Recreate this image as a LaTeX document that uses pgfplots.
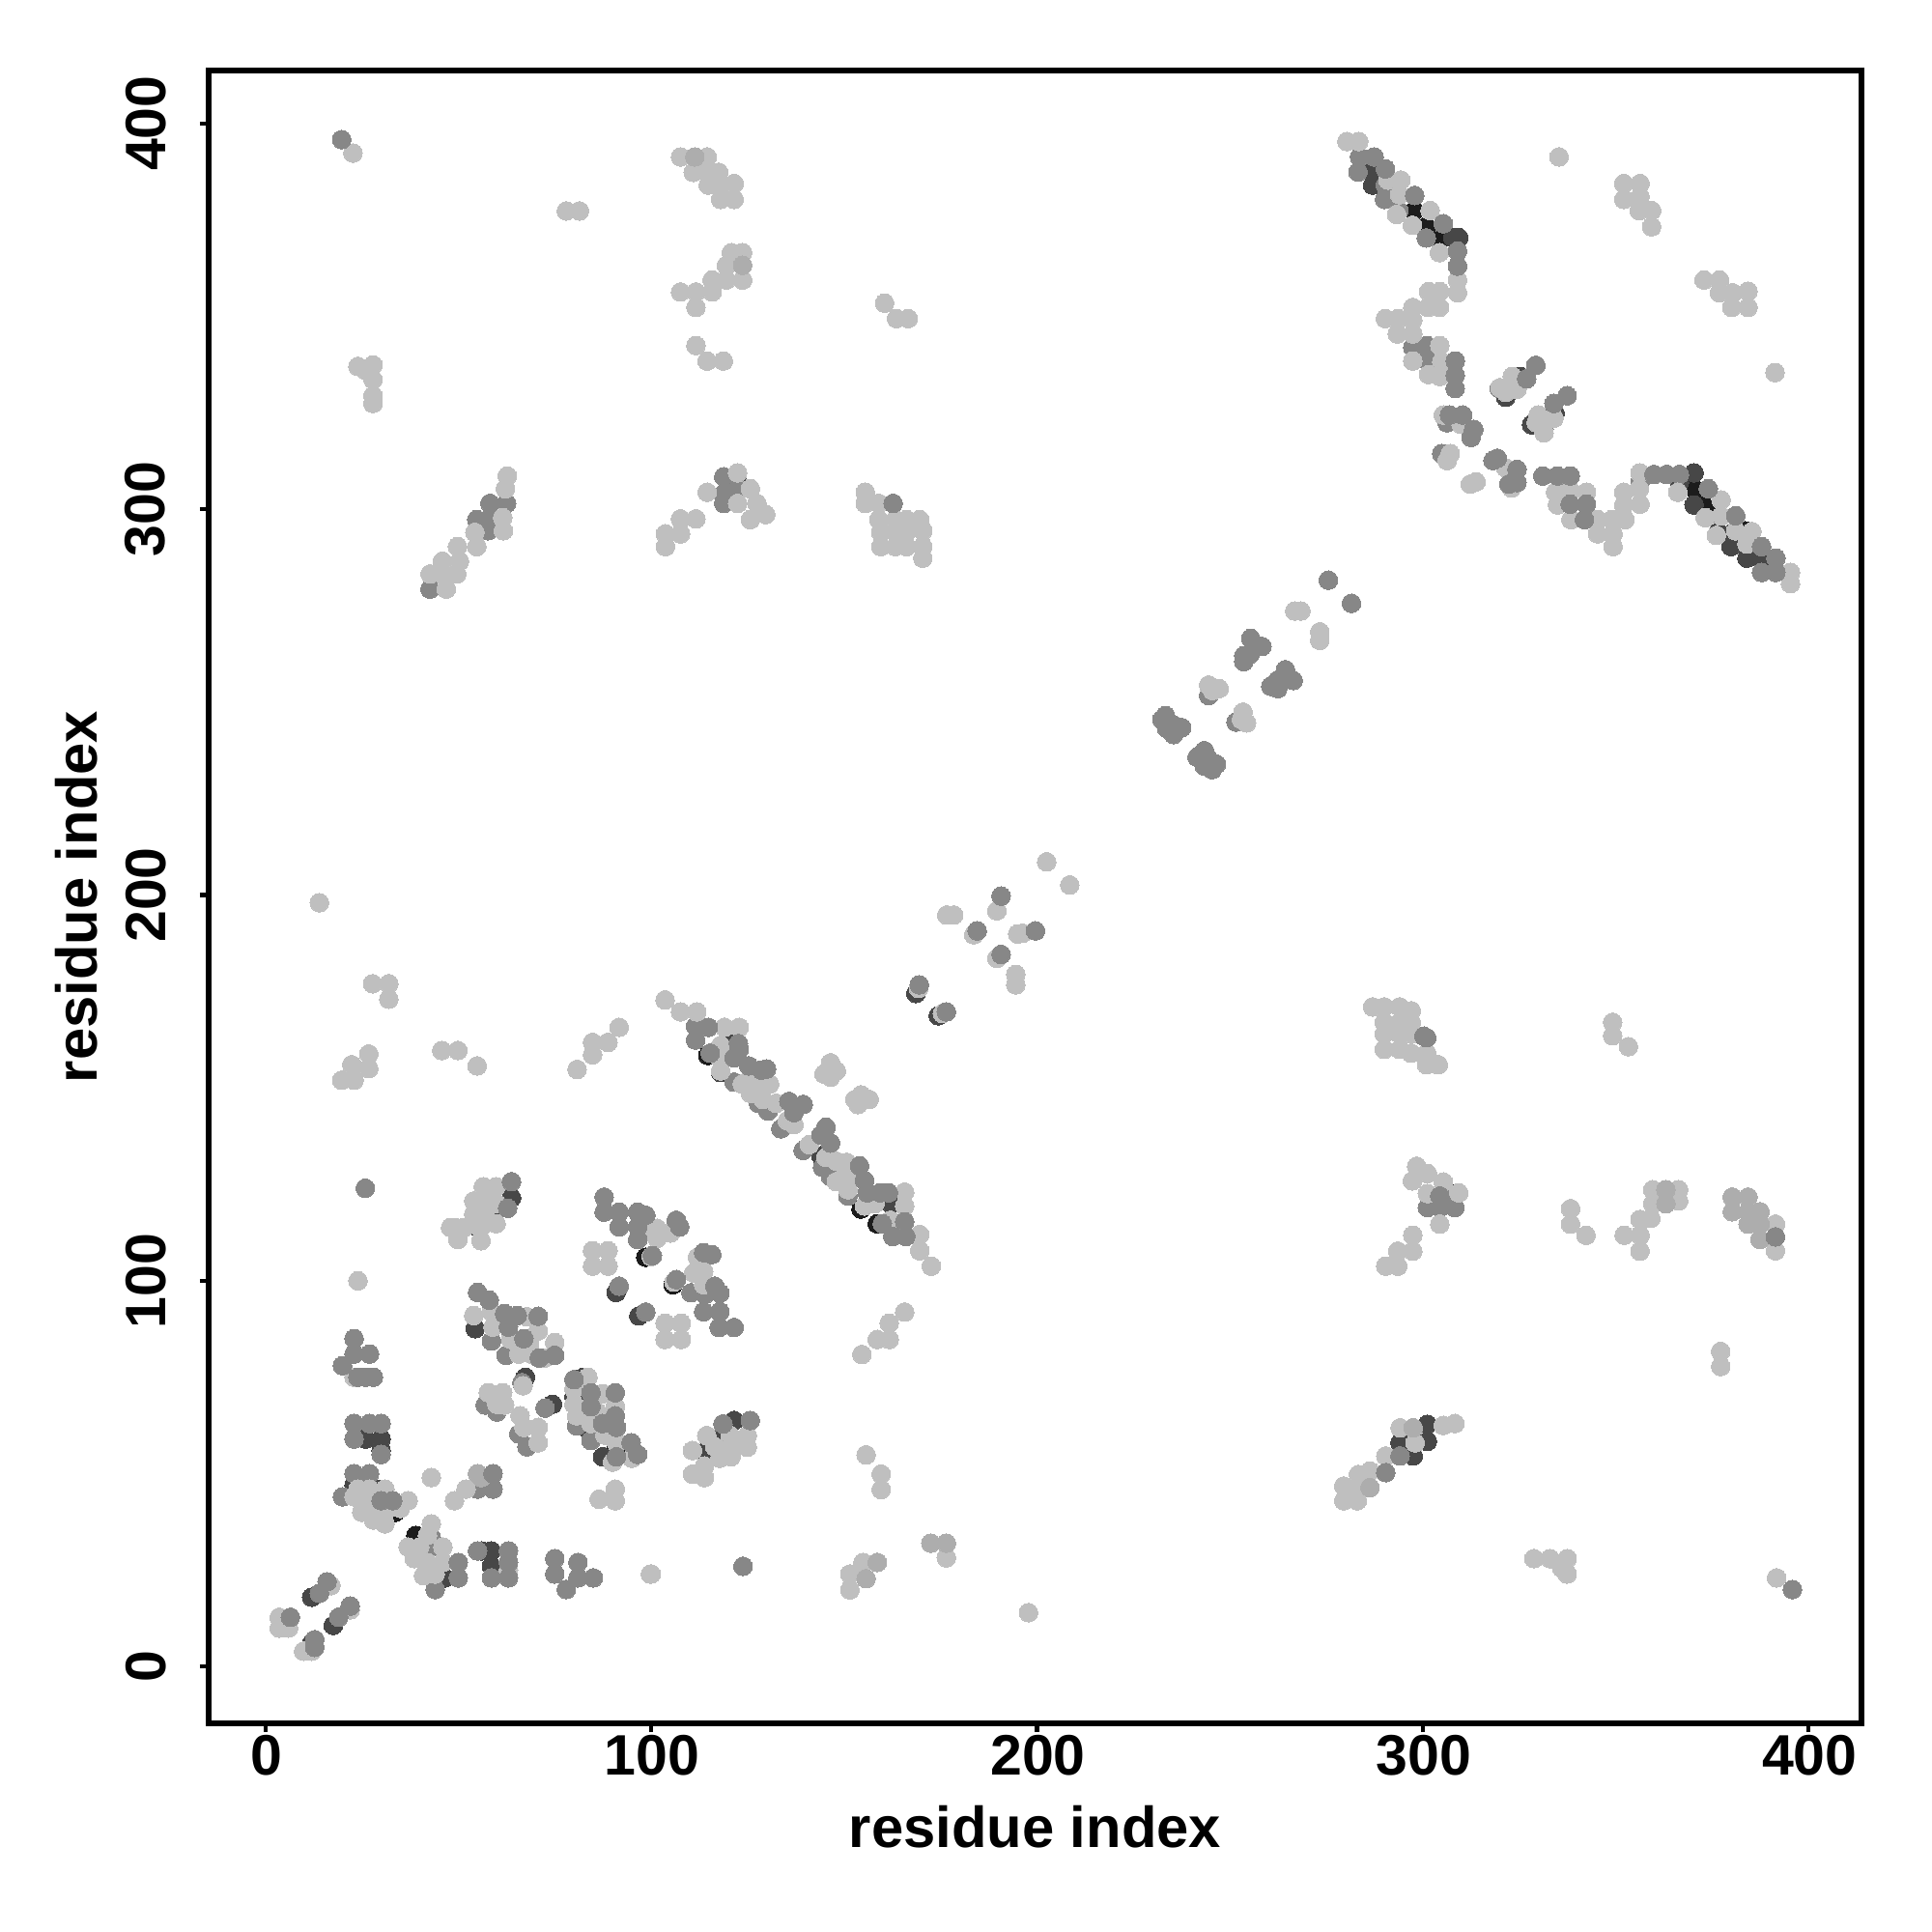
\documentclass[border=0pt]{standalone}
\usepackage{pgfplots}
\pgfplotsset{compat=1.18}
\usepackage{fontspec}
\setmainfont{Liberation Sans}
\definecolor{gb}{gray}{0.11}
\definecolor{gd}{gray}{0.28}
\definecolor{ge}{gray}{0.40}
\definecolor{gm}{gray}{0.53}
\definecolor{gn}{gray}{0.68}
\definecolor{gl}{gray}{0.75}
\newcommand{\pts}[2]{\addplot[only marks,color=#1,mark=*,mark size=0.97mm,mark options={solid,draw=#1,fill=#1,line width=0pt}] coordinates {#2};}
\begin{document}
\begin{tikzpicture}
\path[use as bounding box] (-21.6mm,-21.6mm) rectangle (178.4mm,178.4mm);
\begin{axis}[at={(0,0)},anchor=south west,scale only axis,width=171.1mm,height=171.1mm,
 xmin=-14.7,xmax=413.7,ymin=-14.7,ymax=413.7,
 xtick={0,100,200,300,400},ytick={0,100,200,300,400},
 xtick pos=bottom,ytick pos=left,tick align=outside,
 major tick length=0.9mm,
 axis line style={line width=0.55mm,black},
 every tick/.style={line width=0.42mm,black},
 /pgf/number format/assume math mode=true,
 tick label style={font=\fontsize{16.8}{18}\selectfont\bfseries},
 xticklabel style={yshift=0.9mm,xshift=0.1mm},
 yticklabel style={rotate=90,anchor=south,yshift=2.3mm},
 xlabel={residue index},ylabel={residue index},
 label style={font=\fontsize{17}{18}\selectfont\bfseries},
 xlabel style={at={(0.5,0)},anchor=center,yshift=-10.7mm},
 ylabel style={at={(0,0.5)},anchor=center,yshift=13.7mm}]
% very dark
\pts{gb}{(39,34)(33.6,40)(98.6,106.1)(105.7,99)(154.4,118.6)(158.6,114.8)(114.7,158.4)(91,57)(300.9,373.2)(297.8,377.4)(304.9,370.1)(308.3,122.6)(370.3,305.3)(372.8,301)(376,298.6)(383.6,294.4)}
% dark
\pts{gd}{(30,59)(30,56)(23,47)(12,18)(17.6,10.7)(5.7,12)(12,6)(26,59)(56,30)(58.6,30)(58.6,26)(46.5,23)(29,46)
(54.4,87.6)(67.4,75)(74.4,68)(82.4,75)(80,70)(84,61)(87.4,54.4)(63.8,121.5)(59.4,118)(54.9,114)
(90.9,97)(96.8,90.9)(121.5,63.8)(117.6,59.4)(114,55.7)(119.8,162.4)(118,154)(144,132.4)(162.3,119.8)
(168.6,174.5)(174.4,168.7)(301.2,62.8)(301.2,58.4)(294.1,58)(297.5,54.6)
(287,387.8)(287,384)(309.3,370.4)(307.8,370.4)(370.3,309.4)(325.3,334.4)(321.5,329)(334.3,324.8)(328.2,321.9)(122.4,307.3)
(366.5,307)(376.5,294)(379.9,293.6)(379.9,290.3)(384,287.3)(387.8,286.9)(370.3,301.1)}
% mid under light
\pts{gm}{(20,44)(23,50)(27,50)(44,20)(43,33.6)(42.6,30.7)(55,46)(59,46)(58.6,84.4)(62.4,80.7)(66.5,73.6)(57,67.8)(60,66)(65.7,60.3)(67.8,57)(80.7,62.4)(84.4,58.6)
(111.5,166)(111.5,162.4)(121.5,151.5)(127.8,146)(130.3,144)(133.6,139.4)(139.4,133.8)(144.4,129.4)(146.5,127)(151,122)(110.3,96.9)(114,96.5)
(297.4,341.9)(301.1,342.4)(301.1,338.6)(319.8,331.3)(331.4,320.7)(306.3,322.4)(304.9,314.4)(356.3,307)(363.2,309)(366.5,309)(290.1,380.3)(293.8,377.4)(283.2,387.4)(290.3,384)(283.6,391.3)
(118.8,308.4)(118.8,304)(118.8,301.5)(122.4,305.3)(58.2,301.5)(54.8,297.3)(57.7,294.4)(58.2,297.8)(42.7,279.3)(62.5,301.5)(301.2,119)(304.4,119)(308.3,119)(305.3,122.2)(297.4,338.4)(244.5,251.7)(251.6,244.8)}
% light
\pts{gl}{(24,100)(23,75)(23,44)(24,46)(27,46)(26,43)(27,41)(28,38)(31,37)(31,40)(25,40)(29,42)(31,46)(37,43)(35,41)(43,49)(49,43)(17,21)(22,14.7)(3.6,12.8)(3.6,10)(9.9,4)(12,4)(6,10)
(43,37)(37,31)(38.6,28)(41,23.6)(46,31)(46,27)(40,31)(42,27)(44,24)(42,34)(63,25)(86.5,43.4)(90.7,46)(90.7,43)(100,24)(52,46)(58.6,92)(59,88)(63.6,84.8)(65.7,81)(67.8,90.7)(70.7,87)(75,84)(72.4,80)(54,91)(68.5,84)(69,81)
(66.8,72.8)(57.8,71)(61.5,71)(62,67.8)(60,68)(67,62)(70.7,62)(70.7,58)(66,65)(83.6,75)(80,72)(80,68)(80.7,65)(87.4,70.7)(90.7,67.4)(84.4,63)(88,60)(91,58)(95,54)(85,70)(83,66)(86,66)(90,53)
(103.6,172.8)(107.6,169.7)(111.8,169.7)(45.7,159.7)(49.9,159.7)(54.9,155.7)(91.7,165.7)(84.8,161.8)(88.8,161.8)(84.8,158.6)(80.8,154.8)
(119,165.7)(122.8,165.7)(118,161)(118,157.4)(118,154.4)(123.6,151)(125.7,148.6)(130.7,151)(126,153)(128,150)(132.4,146)(129,147)(135.3,141.5)(137,140.5)(141,135.3)(145.3,132)(148,131)(150.7,130.7)(148,125.7)(151,123.6)(153,128)(150,127)(155.3,119.4)(158,120)(165.7,123)(165.7,119.4)(162,115.7)(169.6,112)(169.6,107.8)(172.6,103.8)
(146.5,156.5)(144.8,153.6)(148,154.4)(146.5,152.8)(154.4,148.2)(152.8,147)(153.6,145.7)(156.5,147)
(59.8,124.4)(56.5,124.4)(54,120.7)(54,117.3)(59.8,114.8)(57,117.8)(55.7,113.6)(49,113.8)(51.5,113.8)(48,113.8)(49.9,110.7)(55.9,110.4)(57,121)(60,120)
(84.8,107.8)(88.8,107.8)(84.8,103.8)(88.8,103.8)(101.5,113.6)(98.6,113)(101.5,111)(105,112.4)(112,106.1)(111,102)(113.6,102.4)(113.6,99)(100,106.3)(105.9,99.7)(103.6,89)(107.8,89)(103.6,84.8)(107.8,84.8)
(165.7,91.9)(161.7,89)(158.6,84.8)(161.7,84.8)(154.6,80.9)
(124.9,59.9)(124.9,56.9)(114.4,59.9)(110.7,56)(120.5,59.9)(120.7,54.4)(117.8,54)(116.5,57)(121,57)(113.8,52)(110.7,49.9)(113.8,49)(155.7,54.9)(159.6,49.9)(159.6,45.9)(99.8,24)(176.5,28.2)(154.9,27)(151.5,24)(151.5,19.9)(197.8,14)
(287,171)(290,171)(294,171)(297,170)(290,167)(294,167)(297,167)(290,164)(294,164)(297,164)(290,160)(294,160)(297,159)(301,159)(301,156)(304,156)(349.2,167)(349.2,163.5)(353.3,160.7)
(298.4,129.7)(297.3,125.9)(301.2,127.8)(305.3,125.6)(301.2,122.6)(309.3,122.8)(304.4,114.7)(297.4,111.8)(297.4,107.7)(293.5,107.7)(293.5,103.8)(290.4,103.8)(338.3,118.7)(338.3,114.7)(342.3,111.8)
(359.6,123.6)(366.3,123.6)(366.3,120.7)(359.6,120)(359.1,116.2)(356.3,115.9)(352.2,111.8)(356.3,111.8)(356.3,107.7)(391.4,114.7)(391.4,107.8)(377.2,81.7)(377.2,77.8)
(308.3,63)(305.3,62.5)(294.1,61.9)(298,58)(290.4,54.6)(286.3,50.7)(283.3,49.8)(279.5,46.8)(282.9,46)(279.5,43)(283,43)(391.7,23)(328.8,28)(333,28)(337.4,28)(337.4,24)(336,25.6)
(280.3,395.3)(283.4,395.3)(291,385.3)(294.3,385.3)(293.2,376.4)(294,381.5)(301.9,377.4)(297.3,373.6)(304.3,366.5)(309,359.4)(309,356.1)(304.4,356.4)(301.5,356.4)(304.3,352.3)(301.3,352.3)(297.4,352.3)(297.4,349)(290.3,349.4)(293.6,349.4)(293.4,345.4)(297.4,345.4)(304.4,342.4)(297.4,338.4)(301.5,334.9)(304.4,334.4)(304.9,338.2)
(323.2,334.4)(321.5,330.3)(320,331.5)(324.4,331.1)(323,332)(334,323.6)(329.9,324.4)(329.4,322.4)(331.4,319.8)(332,323)(305.3,324.4)(309.9,322)(307.1,314.4)(306.3,312.6)(321.5,310.7)(313.8,307.1)(312.3,306.5)(323,305.5)
(334.4,304.4)(338.2,304.9)(342.4,304.4)(334.9,301.1)(338.4,297.3)(345.3,297.3)(349,297.3)(352.4,297.3)(345.3,293.6)(349.3,293.6)(349.3,290.3)(352.1,304.4)(352.1,301.1)(356.1,305.3)(356.3,301.3)(356.3,309.4)(366.1,304.4)(373.2,297.8)(377.3,302.4)(377.3,298.2)(376.1,293.2)(381.1,294.4)(385.3,294.2)(384,291)(395.3,283.6)(395.3,280.7)
(335.3,391.3)(352.1,384.4)(356.3,384.4)(352.1,380.3)(356.3,381)(356.1,377.4)(359.3,377.4)(359.3,373.2)(372.9,359.4)(376.9,359.4)(376.9,356.1)(380.3,356.1)(384.3,356.5)(380.1,352.3)(384.3,352.3)(391.3,335.4)
(107.6,391.3)(114.5,391.3)(110.9,387.3)(114.5,387.3)(117.5,387.3)(114.8,384)(121.5,384.4)(118,384)(118,380.3)(121.5,380.3)(78,377.3)(81.4,377.3)
(120.8,366.5)(123.7,366.5)(119.5,363.2)(123.7,363.2)(115.8,359.4)(119.5,359.4)(123.7,359.4)(107.6,356.3)(111.6,356.3)(115.8,356.3)(111.6,352.3)(160.5,353.4)(163.6,349.4)(166.6,349.4)(111.6,342.4)(114.5,338.4)(118.7,338.4)
(27.9,337.4)(27.9,333.6)(27.9,329.4)(27.9,327.4)(24,337)(26,336)(22.7,392.3)(27.8,177)(32,177)(32,173)(19.8,152)(22.4,156)(26.8,158.8)(26.8,155)(23,152)(14,198)
(62.7,308.6)(62.2,305.3)(61.5,297.8)(61.7,294.4)(54.3,294)(54.8,290.3)(49.8,290.3)(50.3,286.5)(45.9,286.5)(49.6,283.2)(46.4,282.8)(42.7,283.2)(46.9,279.3)
(122.4,309.4)(114.5,304.4)(125.7,305.3)(122.4,301.5)(127.4,301.5)(125.7,297.3)(129.7,298.6)(111.6,297.5)(107.6,297.5)(107.6,293.6)(103.7,293.6)(103.7,290.3)
(155.5,304.4)(155.5,301.5)(159,301.5)(159,297.3)(163.3,297.3)(166.2,297.3)(169.6,297.3)(159.5,294)(163.3,294)(166.2,294)(170.4,294.4)(159.5,290.3)(163.3,290.3)(166.2,290.3)(170.4,290.3)(170.4,287.3)
(266.8,273.6)(268.4,273.6)(273.3,268.2)(273.3,266)(244.5,254.4)(247.2,253.5)(245.5,253)(253.4,247.4)(254.3,244.6)(253,245.5)(202.5,208.6)(208.5,202.6)(189.6,195.9)(176.6,194.8)(178.4,194.8)(183.6,189.7)(196.3,190.1)(195,189.9)(189.6,183.6)(194.5,179.4)(194.5,176.7)(169.3,175.8)(175.5,169.3)}
% lighter-mid
\pts{gn}{(55,50)(56,49)(297.5,61.9)(286.3,46.4)(155.7,22.8)(158.6,27)(172.5,32)(176.5,32)(363,123.6)(363,120)(380.2,121.7)(384.3,121.7)(380.2,117.9)(384.3,117.9)(387.4,117.9)(384.3,114.7)(387.4,114.7)(387.4,110.7)(111.3,391.3)(123.7,363.2)}
% mid on top
\pts{gm}{(23,85)(23,81)(27,81)(20,78)(24,75)(26,75)(28,75)(23,63)(27,63)(30,63)(23,59)(30,55)(30,43)(33,43)(59,50)(16,22)(14,19)(22,15.7)(19,12.8)(6.5,12.8)(12.8,7)(12.8,5)
(50,27)(50,23)(55,30)(63,30)(63,27)(58.6,23)(63,23)(75,28)(75,24)(81,27)(81,23)(85,23)(78,20)
(55,97)(58,95)(62,91.5)(63,88)(65.3,91)(70.7,90.8)(67,85)(71,80)(75,80.7)(72.5,67)(80,74.4)(84.4,71)(90.7,71)(90.7,65)(84.4,67.4)(87.4,63)(91,62)(91,54.4)(94.8,58)(96.5,55)
(63.8,125.7)(62.8,118.8)(87.8,121.7)(87.8,117.8)(91.7,117.8)(91.7,114)(96.5,117.8)(98.6,117)(96.5,110.7)(96.5,114)(106.5,115.7)(107.4,114)(100.3,106.5)(106.5,100.3)(113.6,107.3)(115.7,106.8)(116.5,98.6)(117.8,96.8)(113.6,92)(117.8,92)(117.6,87.9)(121.5,87.9)(91.7,98.6)(98.6,91.9)
(114.8,165.7)(122.6,161.5)(122.8,160)(115.3,159)(121.5,157.8)(125.3,155.7)(128.6,154.6)(129.9,154.9)(135.7,146.5)(139.4,145.7)(137,143.6)(145.3,139.8)(144,137.8)(146.5,135.7)(154,129.8)(155.3,126)(156,122.8)(159.4,122.8)(161.5,122.8)(159.9,114.8)(165.7,115.3)(162.6,111.5)(166,111.5)
(125.7,63.8)(118.6,62.9)(123.8,26)(301,163)(300.3,163.4)(304.4,122)(391.4,111.4)(290.4,50.3)(294.1,54.6)
(287.4,391.3)(290.3,388.2)(297.9,381.3)(305.3,374)(300.9,370.3)(309,366.9)(309,363)(308.4,338.4)(308.4,334.7)(308.4,331.3)(329.3,337.3)(326.9,333.8)(337.4,329.4)(334,327.4)(306.9,324.4)(310.3,324.4)(313.2,320.7)(312.5,318.6)(319.3,313.2)(318.2,312.6)(324.4,310.3)(324.4,306.9)(322.3,306.5)(331.1,308.6)(334.9,308.6)(338.2,308.6)(338.2,301.3)(342.4,301.3)(341.9,297.3)(359.9,309)(374,305.3)(381.1,298.3)(387.8,290.3)(387.8,283.6)(391.5,287.3)(391.5,283.6)(19.8,395.8)(395.8,20)(25.9,124)(162.7,301.5)(275.5,281.6)(281.5,275.6)
(255.4,266.5)(258.3,264.4)(256.5,264.2)(253.6,262)(253.6,260.5)(255.2,262.4)(264.4,258.4)(266.4,255.6)(260.6,254.1)(262.4,255.7)(262.4,253.5)(233.3,246.5)(232.4,245.5)(235.4,244.1)(237.5,243.4)(233.6,243.2)(235.4,241.6)(243.4,237.4)(241.5,235.7)(244.5,235.2)(243.4,233.4)(246.5,233.9)(245.4,232.5)
(190.7,199.7)(184.5,190.7)(199.6,190.7)(190.7,184.6)(169.5,176.7)(176.5,169.7)}
\end{axis}
\end{tikzpicture}
\end{document}
